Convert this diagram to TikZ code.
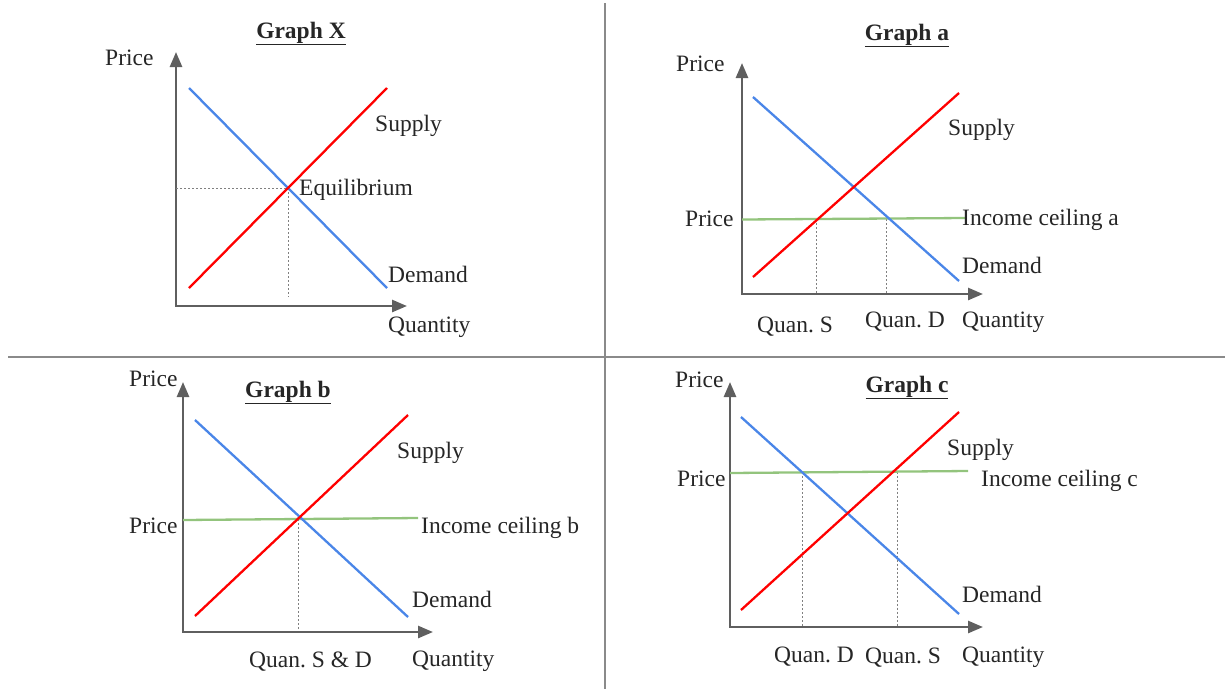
\documentclass[tikz,border=0pt]{standalone}
\usepackage{fontspec}
\setmainfont{Liberation Serif}
\usetikzlibrary{arrows.meta}
\frenchspacing
\definecolor{axisgray}{HTML}{5F5F5F}
\definecolor{divgray}{HTML}{8A8A8A}
\definecolor{dblue}{HTML}{4A86E8}
\definecolor{sred}{HTML}{FF0000}
\definecolor{cgreen}{HTML}{93C47D}
\tikzset{
  lbl/.style={anchor=base west, inner sep=0pt, font=\fontsize{23.5}{28}\selectfont, text=black!85},
  ttl/.style={anchor=base, inner sep=0pt, font=\fontsize{23.5}{28}\selectfont\bfseries, text=black!85},
  axisline/.style={draw=axisgray, line width=2.6pt, {Triangle[length=15pt,width=12pt]}-{Triangle[length=15pt,width=12pt]}},
  demand/.style={draw=dblue, line width=2.3pt},
  supply/.style={draw=sred, line width=2.3pt},
  ceiling/.style={draw=cgreen, line width=2.3pt},
  guide/.style={draw=gray, line width=0.8pt, dash pattern=on 2pt off 2pt},
  divider/.style={draw=divgray, line width=1.5pt}
}
\begin{document}
\begin{tikzpicture}[x=1pt,y=-1pt]
\useasboundingbox (0,0) rectangle (1225,689);
% dividers
\coordinate (vtop) at (605,3); \coordinate (vbot) at (605,689);
\coordinate (hl) at (8,357); \coordinate (hr) at (1225,357);
\draw[divider] (vtop) -- (vbot);
\draw[divider] (hl) -- (hr);

% ---------------- Graph X ----------------
\node[ttl] (tX) at (301,38) {\underline{Graph X}};
\node[lbl] (pX) at (105,65) {Price};
\coordinate (xO) at (176,306); \coordinate (xY) at (176,52); \coordinate (xX) at (407,306);
\draw[axisline] (xY) -- (xO) -- (xX);
\coordinate (xd1) at (189,88); \coordinate (xd2) at (387,288);
\coordinate (xs1) at (189,288); \coordinate (xs2) at (387,88);
\coordinate (xE) at (288,188);
\coordinate (xEy) at (176,188); \coordinate (xEx) at (288,297);
\draw[guide] (xEy) -- (xE) -- (xEx);
\draw[demand] (xd1) -- (xd2);
\draw[supply] (xs1) -- (xs2);
\node[lbl] (sX) at (375,131) {Supply};
\node[lbl] (eX) at (299,195) {Equilibrium};
\node[lbl] (dX) at (388,282) {Demand};
\node[lbl] (qX) at (388,332) {Quantity};

% ---------------- Graph a ----------------
\node[ttl] (tA) at (907,40) {\underline{Graph a}};
\node[lbl] (pA) at (676,71) {Price};
\node[lbl] (pA2) at (685,226) {Price};
\coordinate (aO) at (742,294); \coordinate (aY) at (742,63); \coordinate (aX) at (983,294);
\coordinate (ag1) at (742,219.5); \coordinate (ag2) at (965,218);
\coordinate (aS) at (816,219.3); \coordinate (aD) at (886,219);
\coordinate (aSb) at (816,294); \coordinate (aDb) at (886,294);
\draw[guide] (aS) -- (aSb);
\draw[guide] (aD) -- (aDb);
\draw[axisline] (aY) -- (aO) -- (aX);
\coordinate (ad1) at (753,97); \coordinate (ad2) at (959,281);
\coordinate (as1) at (753,277); \coordinate (as2) at (959,93);
\draw[ceiling] (ag1) -- (ag2);
\draw[demand] (ad1) -- (ad2);
\draw[supply] (as1) -- (as2);
\node[lbl] (sA) at (948,135) {Supply};
\node[lbl] (cA) at (962,225) {Income ceiling a};
\node[lbl] (dA) at (962,273) {Demand};
\node[lbl] (qA) at (962,327) {Quantity};
\node[lbl] (qsA) at (757,332) {Quan. S};
\node[lbl] (qdA) at (865,327) {Quan. D};

% ---------------- Graph b ----------------
\node[lbl] (pB) at (129,386) {Price};
\node[ttl] (tB) at (288,397) {\underline{Graph b}};
\node[lbl] (pB2) at (129,533) {Price};
\coordinate (bO) at (183,632); \coordinate (bY) at (183,382); \coordinate (bX) at (433,632);
\coordinate (bg1) at (183,520); \coordinate (bg2) at (418,518);
\coordinate (bE) at (298,519); \coordinate (bEb) at (298,632);
\draw[guide] (bE) -- (bEb);
\draw[axisline] (bY) -- (bO) -- (bX);
\coordinate (bd1) at (195,420); \coordinate (bd2) at (408,617);
\coordinate (bs1) at (195,616); \coordinate (bs2) at (408,415);
\draw[ceiling] (bg1) -- (bg2);
\draw[demand] (bd1) -- (bd2);
\draw[supply] (bs1) -- (bs2);
\node[lbl] (sB) at (397,458) {Supply};
\node[lbl] (cB) at (421,533) {Income ceiling b};
\node[lbl] (dB) at (412,607) {Demand};
\node[lbl] (qB) at (412,666) {Quantity};
\node[lbl] (qsdB) at (249,667) {Quan. S \& D};

% ---------------- Graph c ----------------
\node[lbl] (pC) at (675,387) {Price};
\node[ttl] (tC) at (907,392) {\underline{Graph c}};
\node[lbl] (pC2) at (677,486) {Price};
\coordinate (cO) at (730,627); \coordinate (cY) at (730,382); \coordinate (cX) at (983,627);
\coordinate (cg1) at (730,473); \coordinate (cg2) at (968,471);
\coordinate (cD) at (802,472.4); \coordinate (cS) at (897,471.6);
\coordinate (cDb) at (802,627); \coordinate (cSb) at (897,627);
\draw[guide] (cD) -- (cDb);
\draw[guide] (cS) -- (cSb);
\draw[axisline] (cY) -- (cO) -- (cX);
\coordinate (cd1) at (741,417); \coordinate (cd2) at (959,614);
\coordinate (cs1) at (741,610); \coordinate (cs2) at (959,412);
\draw[ceiling] (cg1) -- (cg2);
\draw[demand] (cd1) -- (cd2);
\draw[supply] (cs1) -- (cs2);
\node[lbl] (sC) at (947,455) {Supply};
\node[lbl] (ccC) at (981,486) {Income ceiling c};
\node[lbl] (dC) at (962,602) {Demand};
\node[lbl] (qC) at (962,662) {Quantity};
\node[lbl] (qdC) at (774,662) {Quan. D};
\node[lbl] (qsC) at (865,663) {Quan. S};
\end{tikzpicture}
\end{document}
